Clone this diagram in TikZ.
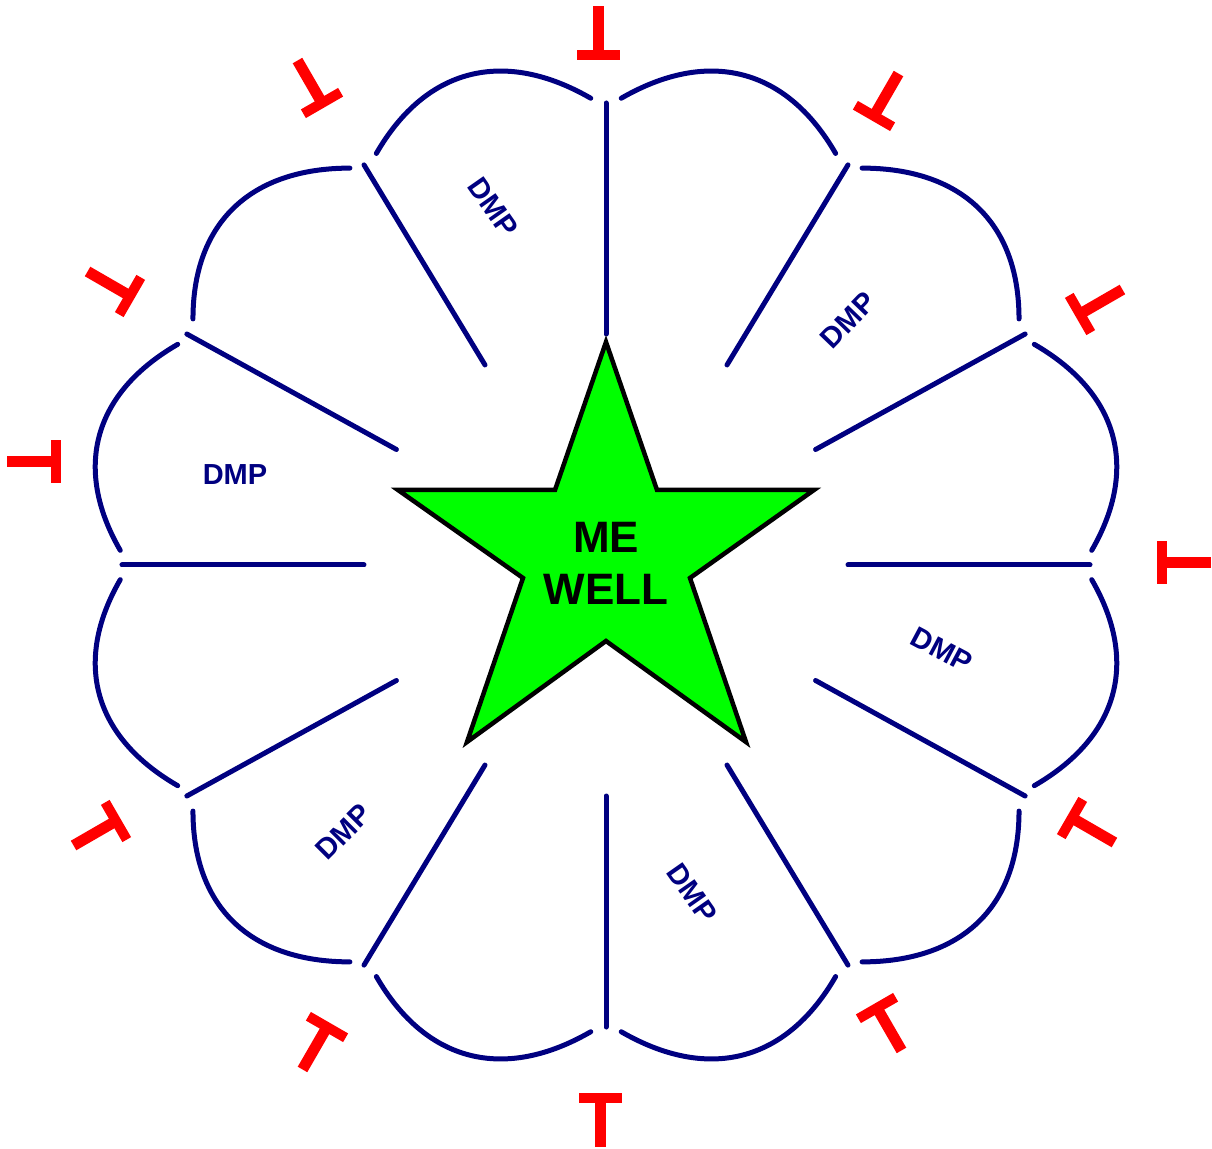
\documentclass[tikz,border=0pt]{standalone}
\usepackage{fontspec}
\setmainfont{Liberation Sans}
\definecolor{petal}{RGB}{0,0,128}
\definecolor{tred}{RGB}{255,0,0}
\definecolor{stargreen}{RGB}{0,255,0}
\begin{document}
\begin{tikzpicture}[x=1pt,y=1pt,
  spoke/.style={draw=petal,line width=5pt,line cap=round},
  petalarc/.style={draw=petal,line width=5pt,line cap=round,looseness=1.15},
  dmp/.style={text=petal,font=\bfseries\fontsize{29}{31}\selectfont,inner sep=0pt},
  tee/.pic={\fill[tred] (-21.5,-5) rectangle (21.5,5); \fill[tred] (-5.5,4) rectangle (5.5,49);}
]
\useasboundingbox (-606,-583) rectangle (606,565);
% spokes
\foreach \a [count=\k] in {90,60,...,-240} {
  \pgfmathsetmacro\pa{\a+1.8}
  \pgfmathsetmacro\pb{\a-1.8}
  \coordinate (in\k) at (\a:242 and 231);
  \coordinate (out\k) at (\a:484 and 462);
  \coordinate (pa\k) at (\pa:486 and 467);
  \coordinate (pb\k) at (\pb:486 and 467);
  \draw[spoke] (in\k) -- (out\k);
}
% petals
\foreach \a [count=\k] in {90,60,...,-240} {
  \pgfmathtruncatemacro\n{mod(\k,12)+1}
  \pgfmathsetmacro\oa{\a-60}
  \pgfmathsetmacro\ia{\a+30}
  \draw[petalarc] (pb\k) to[out=\oa,in=\ia] (pa\n);
}
% red T marks
\foreach \x/\y/\r in {-7.5/510/0, -284/462/30, -476/269/60, -549.5/103.5/90,
  -490/-256/120, -279/-462/150, -6/-532.5/180, 271/-443/210, 466/-253/240,
  555.5/2.5/270, 474/251/300, 268/449/330} {
  \pic[rotate=\r] at (\x,\y) {tee};
}
% star
\draw[fill=stargreen,draw=black,line width=4.5pt,line join=miter]
  (0,223) -- (51,75) -- (208,75) -- (84,-13) -- (140,-177) -- (0,-76)
  -- (-139,-177) -- (-83,-13) -- (-208,75) -- (-51,75) -- cycle;
\node[font=\bfseries\fontsize{44}{52}\selectfont,align=center,inner sep=0pt] (well) at (0,2) {ME\\WELL};
% DMP labels
\node[dmp,rotate=-55] (d1) at (-113,358) {DMP};
\node[dmp,rotate=46] (d2) at (242,245) {DMP};
\node[dmp] (d3) at (-371,90) {DMP};
\node[dmp,rotate=-28] (d4) at (336,-85) {DMP};
\node[dmp,rotate=45] (d5) at (-263,-267) {DMP};
\node[dmp,rotate=-55] (d6) at (86,-328) {DMP};
\end{tikzpicture}
\end{document}
